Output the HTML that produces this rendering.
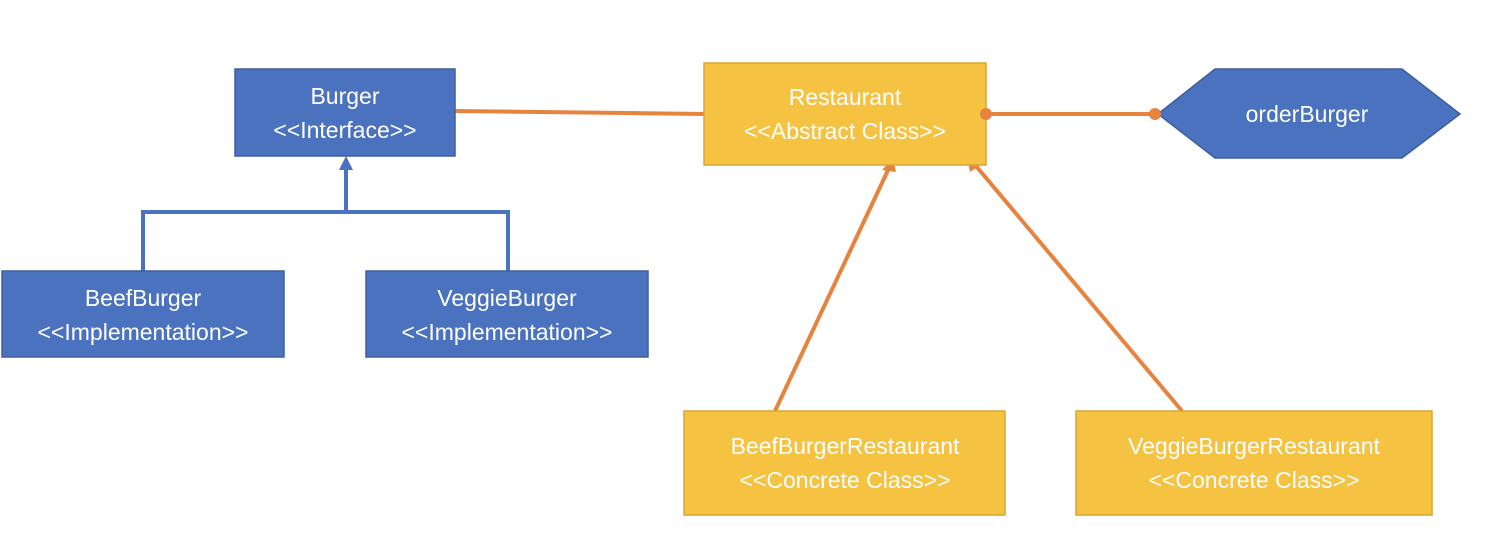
<!DOCTYPE html>
<html><head><style>
body{margin:0;width:1492px;height:540px;background:#fff;overflow:hidden;font-family:"Liberation Sans",sans-serif;}
</style></head><body>
<svg width="1492" height="540" xmlns="http://www.w3.org/2000/svg" font-family="Liberation Sans, sans-serif" font-size="23" fill="#fff">
<g stroke="#E6833F" stroke-width="4" fill="none">
<line x1="455" y1="111" x2="704" y2="114"/>
<line x1="775" y1="411" x2="889" y2="168"/>
<line x1="1182" y1="411" x2="976" y2="166"/>
</g>
<polygon points="893,158 882,170 896,172" fill="#E6833F"/>
<polygon points="967,156 970,172 982,164" fill="#E6833F"/>
<g stroke="#4A72BE" stroke-width="4" fill="none">
<polyline points="143,271 143,212 508,212 508,271"/>
<line x1="346" y1="212" x2="346" y2="168"/>
</g>
<polygon points="346,156 339,170 353,170" fill="#4A72BE"/>
<g stroke="#3D5F9E" stroke-width="1.5" fill="#4A72BE">
<rect x="235" y="69" width="220" height="87"/>
<rect x="2" y="271" width="282" height="86"/>
<rect x="366" y="271" width="282" height="86"/>
<polygon points="1158,114 1215,69 1402,69 1460,114 1402,158 1215,158"/>
</g>
<g stroke="#D9A632" stroke-width="1.5" fill="#F5C242">
<rect x="704" y="63" width="282" height="102"/>
<rect x="684" y="411" width="321" height="104"/>
<rect x="1076" y="411" width="356" height="104"/>
</g>
<line x1="986" y1="114" x2="1155" y2="114" stroke="#E6833F" stroke-width="4"/>
<circle cx="986" cy="114" r="6" fill="#E6833F"/>
<circle cx="1155" cy="114" r="6" fill="#E6833F"/>
<g text-anchor="middle">
<text x="345" y="104">Burger</text><text x="345" y="138">&lt;&lt;Interface&gt;&gt;</text>
<text x="143" y="306">BeefBurger</text><text x="143" y="340">&lt;&lt;Implementation&gt;&gt;</text>
<text x="507" y="306">VeggieBurger</text><text x="507" y="340">&lt;&lt;Implementation&gt;&gt;</text>
<text x="845" y="105">Restaurant</text><text x="845" y="139">&lt;&lt;Abstract Class&gt;&gt;</text>
<text x="1307" y="122">orderBurger</text>
<text x="845" y="454">BeefBurgerRestaurant</text><text x="845" y="488">&lt;&lt;Concrete Class&gt;&gt;</text>
<text x="1254" y="454">VeggieBurgerRestaurant</text><text x="1254" y="488">&lt;&lt;Concrete Class&gt;&gt;</text>
</g>
</svg>
</body></html>
